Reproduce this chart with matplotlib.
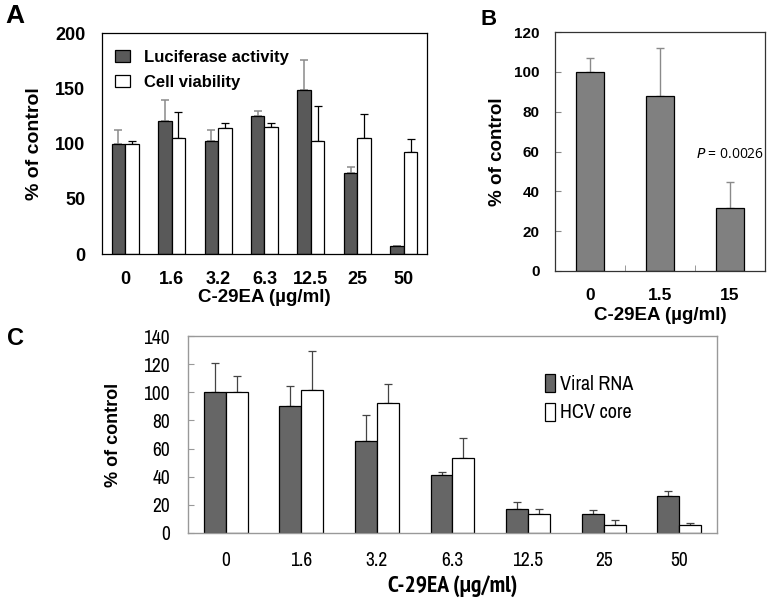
import matplotlib
matplotlib.use("Agg")
import matplotlib.pyplot as plt
from matplotlib.patches import Patch
import numpy as np

# ---------------- data ----------------
a_labels = ["0", "1.6", "3.2", "6.3", "12.5", "25", "50"]
a_luc = [100, 120, 102, 125, 148, 73, 7]
a_luc_top = [112, 139, 112, 129, 176, 79, 7.5]
a_cell = [100, 105, 114, 115, 102.5, 105, 92]
a_cell_top = [102, 128.7, 118.8, 119, 133.8, 126.7, 103.8]

b_labels = ["0", "1.5", "15"]
b_vals = [100, 88, 31.8]
b_top = [106.9, 112.1, 44.9]

c_labels = ["0", "1.6", "3.2", "6.3", "12.5", "25", "50"]
c_rna = [100, 90, 65.7, 41.1, 17.3, 13.5, 26.2]
c_rna_top = [120.6, 104.5, 83.7, 43.3, 21.8, 16.6, 30.0]
c_core = [100, 101.4, 92.7, 53.0, 13.7, 5.9, 5.4]
c_core_top = [111.8, 129.1, 106.2, 67.4, 16.8, 9.2, 7.1]

BOLD = ["Liberation Sans", "DejaVu Sans"]
NARROW = ["Archivo Narrow", "Liberation Sans", "DejaVu Sans"]
NARROW_BOLD = ["PT Sans Narrow", "Roboto Condensed", "Liberation Sans", "DejaVu Sans"]

fig = plt.figure(figsize=(7.70, 5.99), dpi=100)

def up_err(vals, tops):
    v = np.array(vals, float)
    t = np.array(tops, float)
    return [np.zeros_like(v), t - v]

# ---------------- Panel A ----------------
axA = fig.add_axes([102/770, 1-254/599, 325/770, 221/599])
x = np.arange(len(a_labels))
w = 0.29
axA.bar(x - w/2, a_luc, w, color="#595959", edgecolor="black", lw=0.9, zorder=2)
axA.bar(x + w/2, a_cell, w, color="white", edgecolor="black", lw=0.9, zorder=2)
axA.errorbar(x - w/2, a_luc, yerr=up_err(a_luc, a_luc_top), fmt="none",
             ecolor="#8a8a8a", elinewidth=1.1, capsize=3, capthick=1.1, zorder=1)
axA.errorbar(x + w/2, a_cell, yerr=up_err(a_cell, a_cell_top), fmt="none",
             ecolor="black", elinewidth=0.9, capsize=3, capthick=0.9, zorder=1)
axA.set_xlim(-0.5, len(a_labels) - 0.5)
axA.set_ylim(0, 200)
axA.set_yticks([0, 50, 100, 150, 200])
axA.set_xticks(x)
axA.set_xticklabels(a_labels)
axA.tick_params(length=0)
axA.tick_params(axis="y", pad=12)
axA.tick_params(axis="x", pad=12)
for lab in axA.get_yticklabels() + axA.get_xticklabels():
    lab.set_fontfamily(BOLD); lab.set_fontweight("bold"); lab.set_fontsize(13)
axA.set_ylabel("% of control", family=BOLD, fontweight="bold", fontsize=14, labelpad=9)
axA.set_xlabel("C-29EA (µg/ml)", family=BOLD, fontweight="bold", fontsize=13.5, labelpad=1)
for s in axA.spines.values():
    s.set_linewidth(0.9)
axA.legend(handles=[Patch(facecolor="#595959", edgecolor="black", lw=0.9),
                    Patch(facecolor="white", edgecolor="black", lw=0.9)],
           labels=["Luciferase activity", "Cell viability"],
           loc="upper left", bbox_to_anchor=(0.0, 0.985), frameon=False,
           handlelength=0.85, handleheight=0.75,
           handletextpad=0.9, labelspacing=0.6, borderaxespad=0.4,
           prop={"family": BOLD, "weight": "bold", "size": 12})

# ---------------- Panel B ----------------
axB = fig.add_axes([555/770, 1-271/599, 210/770, 239/599])
xb = np.arange(len(b_labels))
axB.bar(xb, b_vals, 0.4, color="#808080", edgecolor="black", lw=0.9, zorder=2)
axB.errorbar(xb, b_vals, yerr=up_err(b_vals, b_top), fmt="none",
             ecolor="#8a8a8a", elinewidth=1.0, capsize=3, capthick=1.0, zorder=1)
axB.set_xlim(-0.5, len(b_labels) - 0.5)
axB.set_ylim(0, 120)
axB.set_yticks(np.arange(0, 121, 20))
axB.set_xticks(xb)
axB.set_xticklabels(b_labels)
axB.set_xticks(np.arange(0.5, len(b_labels) - 0.5, 1.0), minor=True)
axB.tick_params(axis="x", which="minor", direction="in", length=4, color="#888888")
axB.tick_params(axis="x", which="major", length=0, pad=12)
axB.tick_params(axis="y", direction="in", length=4, color="#888888", pad=11)
for lab in axB.get_yticklabels():
    lab.set_fontfamily(BOLD); lab.set_fontweight("bold"); lab.set_fontsize(11)
for lab in axB.get_xticklabels():
    lab.set_fontfamily(BOLD); lab.set_fontweight("bold"); lab.set_fontsize(12.5)
axB.set_ylabel("% of control", family=BOLD, fontweight="bold", fontsize=13.5, labelpad=6)
axB.set_xlabel("C-29EA (µg/ml)", family=BOLD, fontweight="bold", fontsize=13.5, labelpad=3)
for s in axB.spines.values():
    s.set_linewidth(0.9); s.set_color("#333333")
axB.text(2.0, b_top[2] + 10, r"$\it{P}$ = 0.0026", ha="center", va="bottom",
         fontsize=10, family=["Open Sans", "DejaVu Sans"])

# ---------------- Panel C ----------------
axC = fig.add_axes([188/770, 1-533/599, 529/770, 197/599])
xc = np.arange(len(c_labels))
wc = 0.29
axC.bar(xc - wc/2, c_rna, wc, color="#666666", edgecolor="black", lw=0.9, zorder=2)
axC.bar(xc + wc/2, c_core, wc, color="white", edgecolor="black", lw=0.9, zorder=2)
axC.errorbar(xc - wc/2, c_rna, yerr=up_err(c_rna, c_rna_top), fmt="none",
             ecolor="#444444", elinewidth=0.9, capsize=3, capthick=0.9, zorder=1)
axC.errorbar(xc + wc/2, c_core, yerr=up_err(c_core, c_core_top), fmt="none",
             ecolor="#444444", elinewidth=0.9, capsize=3, capthick=0.9, zorder=1)
axC.set_xlim(-0.5, len(c_labels) - 0.5)
axC.set_ylim(0, 140)
axC.set_yticks(np.arange(0, 141, 20))
axC.set_xticks(xc)
axC.set_xticklabels(c_labels)
axC.tick_params(axis="x", length=0, pad=13)
axC.tick_params(axis="y", direction="in", length=4, color="#999999", pad=13)
for lab in axC.get_yticklabels() + axC.get_xticklabels():
    lab.set_fontfamily(NARROW); lab.set_fontsize(14)
axC.set_ylabel("% of control", family=BOLD, fontweight="bold", fontsize=13, labelpad=15)
axC.set_xlabel("C-29EA (µg/ml)", family=NARROW_BOLD, fontweight="bold", fontsize=17, labelpad=4)
for s in axC.spines.values():
    s.set_linewidth(1.0); s.set_color("#999999")
axC.legend(handles=[Patch(facecolor="#666666", edgecolor="black", lw=0.9),
                    Patch(facecolor="white", edgecolor="black", lw=0.9)],
           labels=["Viral RNA", "HCV core"],
           loc="upper left", bbox_to_anchor=(0.66, 0.85), frameon=False,
           handlelength=0.5, handleheight=1.0, handletextpad=0.25,
           labelspacing=0.45, borderaxespad=0.0, prop={"family": NARROW, "size": 14.5})

# ---------------- panel letters ----------------
fig.text(5/770, 1-4/599, "A", ha="left", va="top", fontsize=19, fontweight="bold", family=BOLD)
fig.text(480/770, 1-9/599, "B", ha="left", va="top", fontsize=16, fontweight="bold", family=BOLD)
fig.text(7/770, 1-327/599, "C", ha="left", va="top", fontsize=17, fontweight="bold", family=BOLD)

fig.savefig("out.png", dpi=100)
